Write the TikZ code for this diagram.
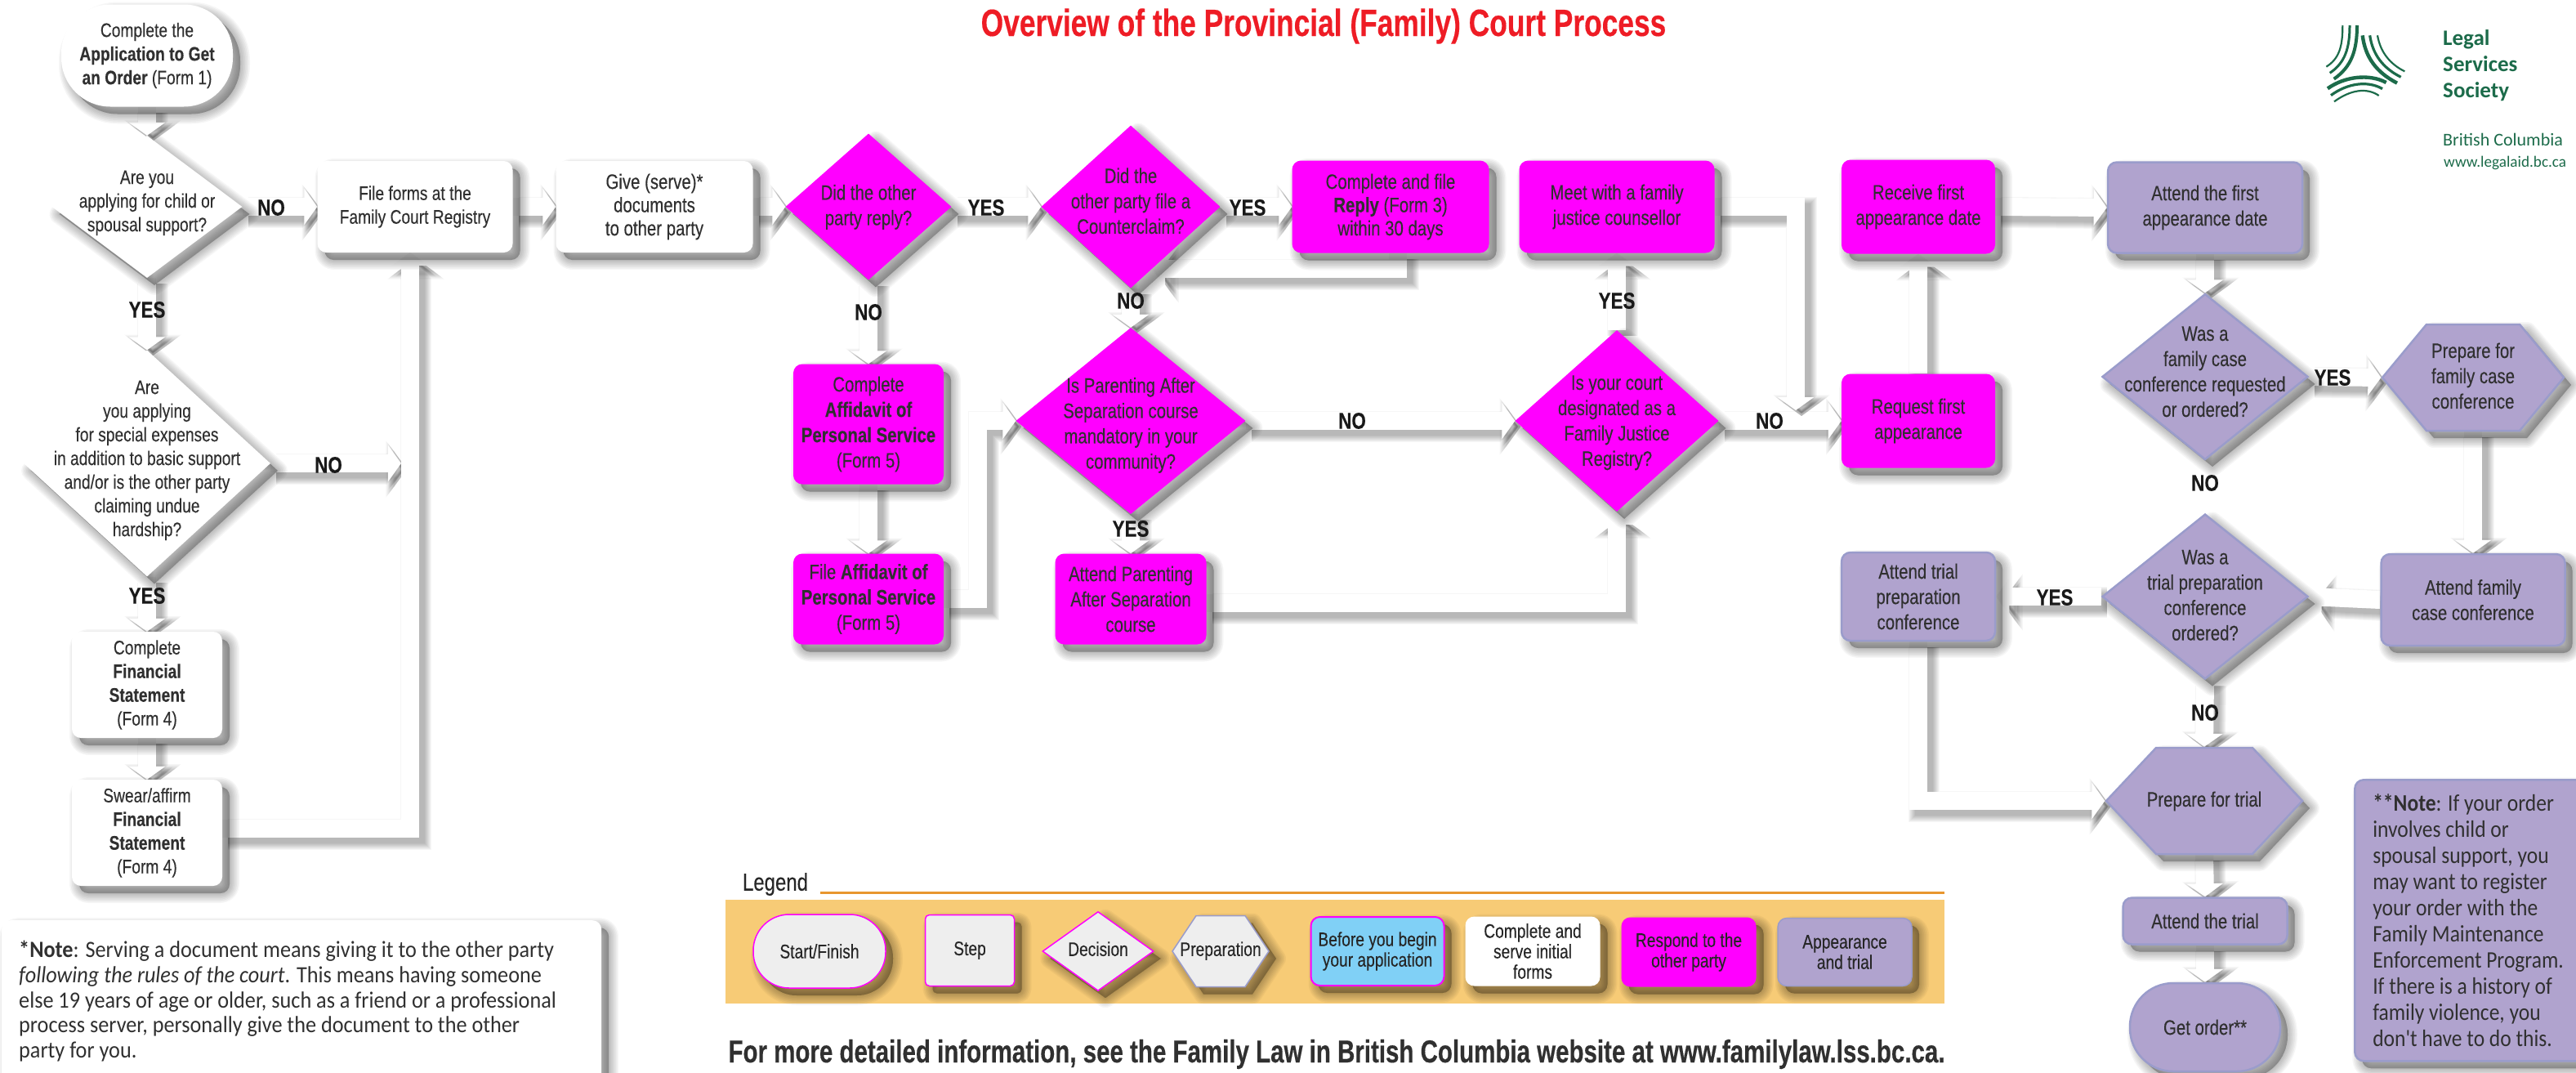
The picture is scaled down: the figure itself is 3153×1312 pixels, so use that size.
\documentclass[tikz,border=0pt]{standalone}
\usepackage{fontspec}
\setmainfont[FakeStretch=0.8,FakeBold=0.2]{Liberation Sans}
\newfontfamily\headfont[FakeStretch=0.76,FakeBold=0.3]{Liberation Sans}
\newfontfamily\notefont[FakeStretch=0.92]{Carlito}
\newfontfamily\notetwofont[FakeStretch=0.88]{Carlito}
\newfontfamily\logofont{Carlito}
\usetikzlibrary{arrows.meta,backgrounds,shadows,shapes.geometric,shapes.symbols}

\definecolor{txtgray}{HTML}{303030}
\definecolor{titlered}{HTML}{EE1C25}
\definecolor{magentafill}{HTML}{FF00FF}
\definecolor{purplefill}{HTML}{B0A3CE}
\definecolor{purpleline}{HTML}{9A9CCB}
\definecolor{logogreen}{HTML}{1C6B4A}
\definecolor{legendfill}{HTML}{F7CB76}
\definecolor{legendline}{HTML}{E8962E}
\definecolor{skyfill}{HTML}{80D0F6}
\definecolor{lightfill}{HTML}{EEEEEE}

\newcommand{\dtext}[2][0pt]{\raisebox{\dimexpr-14pt-#1\relax}{\smash{\makebox[0pt]{\begin{tabular}{@{}c@{}}#2\end{tabular}}}}}
\newcommand{\fatarrow}[1]{%
  \begin{scope}[on background layer]
    \foreach \sb in {0,2,4,6,8,10,12,14,16}{
      \pgfmathsetmacro{\lw}{22+\sb}
      \pgfmathsetmacro{\al}{16+.6*\sb}
      \pgfmathsetmacro{\aw}{44+1.5*\sb}
      \draw[line cap=butt,line join=miter,black,opacity=.034,line width=\lw pt,transform canvas={xshift=7pt,yshift=-7pt},-{Triangle[length=\al pt,width=\aw pt]}] #1;
    }
    \draw[fatline,white] #1;
  \end{scope}}

\tikzset{
  softlayer/.style={drop shadow={shadow xshift=9pt,shadow yshift=-9pt,opacity=.036,fill=black,draw=black,line width=#1pt,line join=round}},
  softshadow/.style={softlayer=24,softlayer=21,softlayer=18,softlayer=15,softlayer=12,softlayer=9,softlayer=6,softlayer=3,softlayer=.1},
  fatline/.style={line width=22pt,line cap=butt,line join=miter,-{Triangle[length=16pt,width=44pt]}},
  smalltext/.style={font=\fontsize{24}{29}\selectfont,text=txtgray,align=center,inner sep=0pt},
  bigtext/.style={font=\fontsize{25.5}{31}\selectfont,text=txtgray,align=center,inner sep=0pt},
  midtext/.style={font=\fontsize{25.5}{28.5}\selectfont,text=txtgray,align=center,inner sep=0pt},
  legendtext/.style={font=\fontsize{24}{25}\selectfont,text=black!85,align=center,inner sep=0pt},
  yesno/.style={font=\fontsize{28}{30}\selectfont\bfseries,text=black!90,inner sep=0pt},
  boxstep/.style={rectangle,rounded corners=11pt,softshadow},
  decide/.style={diamond,softshadow},
  hexa/.style={signal,signal to=east and west,softshadow},
  whitefill/.style={fill=white},
  pinkfill/.style={fill=magentafill},
  lilacfill/.style={fill=purplefill,draw=purpleline,line width=2.5pt},
  notebox/.style={rectangle,rounded corners=11pt,softshadow,align=flush left,font=\notefont\fontsize{28.5}{30.7}\selectfont,text=txtgray}
}

\begin{document}
\begin{tikzpicture}[x=1pt,y=-1pt]
\useasboundingbox (0,0) rectangle (3153,1312);

% left column
\node [boxstep,whitefill,smalltext,rounded corners=60pt,minimum width=210pt,minimum height=125pt] (start) at (180,68) {Complete the\\\textbf{Application to Get}\\\textbf{an Order} (Form 1)};
\node [decide,whitefill,smalltext,minimum width=233pt,minimum height=174pt] (support) at (180,253) {\dtext[-11pt]{Are you\\applying for child or\\spousal support?}};
\node [decide,whitefill,smalltext,minimum width=302pt,minimum height=277pt] (special) at (180,567) {\dtext[-9pt]{Are\\you applying\\for special expenses\\in addition to basic support\\and/or is the other party\\claiming undue\\hardship?}};
\node [boxstep,whitefill,smalltext,minimum width=184pt,minimum height=130pt] (fincomplete) at (180,838) {Complete\\\textbf{Financial}\\\textbf{Statement}\\(Form 4)};
\node [boxstep,whitefill,smalltext,minimum width=184pt,minimum height=130pt] (finswear) at (180,1019) {Swear/affirm\\\textbf{Financial}\\\textbf{Statement}\\(Form 4)};
\node [boxstep,whitefill,smalltext,minimum width=239pt,minimum height=112pt] (fileforms) at (508,253) {File forms at the\\Family Court Registry};
\node [boxstep,whitefill,midtext,minimum width=241pt,minimum height=112pt] (give) at (801,253) {Give (serve)*\\documents\\to other party};

% respond to the other party
\node [decide,pinkfill,bigtext,minimum width=203pt,minimum height=179pt] (replied) at (1063,253) {\dtext{Did the other\\party reply?}};
\node [decide,pinkfill,bigtext,minimum width=219pt,minimum height=199pt] (counter) at (1384,253) {\dtext[-10pt]{Did the\\other party file a\\Counterclaim?}};
\node [boxstep,pinkfill,midtext,minimum width=241pt,minimum height=113pt] (reply) at (1702,253) {Complete and file\\\textbf{Reply} (Form 3)\\within 30 days};
\node [boxstep,pinkfill,bigtext,minimum width=239pt,minimum height=113pt] (meet) at (1979,253) {Meet with a family\\justice counsellor};
\node [boxstep,pinkfill,bigtext,minimum width=184pt,minimum height=147pt] (affidavit) at (1063,519) {Complete\\\textbf{Affidavit of}\\\textbf{Personal Service}\\(Form 5)};
\node [boxstep,pinkfill,bigtext,minimum width=184pt,minimum height=111pt] (fileaff) at (1063,733) {File \textbf{Affidavit of}\\\textbf{Personal Service}\\(Form 5)};
\node [decide,pinkfill,bigtext,minimum width=281pt,minimum height=228pt] (parenting) at (1384,515) {\dtext[10pt]{Is Parenting After\\Separation course\\mandatory in your\\community?}};
\node [boxstep,pinkfill,bigtext,minimum width=185pt,minimum height=111pt] (attendpar) at (1384,733) {Attend Parenting\\After Separation\\course};
\node [decide,pinkfill,bigtext,minimum width=249pt,minimum height=222pt] (registry) at (1979,515) {\dtext[3pt]{Is your court\\designated as a\\Family Justice\\Registry?}};
\node [boxstep,pinkfill,bigtext,minimum width=188pt,minimum height=115pt] (receive) at (2348,253) {Receive first\\appearance date};
\node [boxstep,pinkfill,bigtext,minimum width=188pt,minimum height=115pt] (request) at (2348,515) {Request  first\\appearance};

% appearance and trial
\node [boxstep,lilacfill,bigtext,minimum width=238pt,minimum height=111pt] (attendfirst) at (2699,254) {Attend the first\\appearance date};
\node [decide,lilacfill,bigtext,minimum width=252pt,minimum height=203pt] (familycase) at (2699,461) {\dtext[-9pt]{Was a\\family case\\conference requested\\or ordered?}};
\node [hexa,lilacfill,bigtext,minimum width=222pt,minimum height=130pt,signal pointer angle=100.6] (prepfamily) at (3027,462) {\dtext{Prepare for\\family case\\conference}};
\node [boxstep,lilacfill,bigtext,minimum width=225pt,minimum height=112pt] (attendfamily) at (3027,734) {Attend family\\case conference};
\node [decide,lilacfill,bigtext,minimum width=252pt,minimum height=202pt] (trialprep) at (2699,730) {\dtext{Was a\\trial preparation\\conference\\ordered?}};
\node [boxstep,lilacfill,bigtext,minimum width=188pt,minimum height=108pt] (attendprep) at (2348,730) {Attend trial\\preparation\\conference};
\node [hexa,lilacfill,bigtext,minimum width=240pt,minimum height=130pt,signal pointer angle=93.6] (preptrial) at (2698,980) {\dtext{Prepare for trial}};
\node [boxstep,lilacfill,bigtext,minimum width=201pt,minimum height=57pt] (attendtrial) at (2699,1127) {Attend the trial};
\node [boxstep,lilacfill,bigtext,rounded corners=53pt,minimum width=184pt,minimum height=108pt] (getorder) at (2699,1257) {Get order**};

% free ends of connectors
\coordinate (nojoin) at (491,567);
\coordinate (fileup) at (502,309);
\coordinate (affturn) at (1197,515);
\coordinate (meetdown) at (2198,502);

% connectors
\fatarrow{(start.south) -- (support.north)}
\fatarrow{(support.east) -- (fileforms.west)}
\fatarrow{(fileforms.east) -- (give.west)}
\fatarrow{(give.east) -- (replied.west)}
\fatarrow{(support.south) -- (special.north)}
\fatarrow{(special.south) -- (fincomplete.north)}
\fatarrow{(fincomplete.south) -- (finswear.north)}
\fatarrow{(special.east) -- (nojoin)}
\fatarrow{(finswear.3) -| (fileup)}
\fatarrow{(replied.east) -- (counter.west)}
\fatarrow{(counter.east) -- (reply.west)}
\fatarrow{([xshift=9pt]reply.south) |- (counter.-71)}
\fatarrow{(replied.south) -- (affidavit.north)}
\fatarrow{(affidavit.south) -- (fileaff.north)}
\fatarrow{(counter.south) -- (parenting.north)}
\fatarrow{(parenting.south) -- (attendpar.north)}
\fatarrow{(fileaff.east) -| (affturn) -- (parenting.west)}
\fatarrow{(parenting.east) -- (registry.west)}
\fatarrow{(registry.north) -- (meet.south)}
\fatarrow{(attendpar.-3) -| (registry.south)}
\fatarrow{(registry.east) -- (request.west)}
\fatarrow{(meet.east) -| (meetdown)}
\fatarrow{(request.north) -- (receive.south)}
\fatarrow{(receive.east) -- (attendfirst.west)}
\fatarrow{(attendfirst.south) -- (familycase.north)}
\fatarrow{(familycase.east) -- (prepfamily.west)}
\fatarrow{(prepfamily.south) -- (attendfamily.north)}
\fatarrow{(attendfamily.west) -- (trialprep.east)}
\fatarrow{(trialprep.west) -- (attendprep.east)}
\fatarrow{(trialprep.south) -- (preptrial.north)}
\fatarrow{(attendprep.south) |- (preptrial.west)}
\fatarrow{(preptrial.south) -- (attendtrial.north)}
\fatarrow{(attendtrial.south) -- (getorder.north)}

% yes and no
\node [yesno] (noa) at (332,254) {NO};
\node [yesno] (yesa) at (180,379) {YES};
\node [yesno] (nob) at (402,569) {NO};
\node [yesno] (yesb) at (180,729) {YES};
\node [yesno] (yesc) at (1207,254) {YES};
\node [yesno] (yesd) at (1527,254) {YES};
\node [yesno] (noc) at (1063,382) {NO};
\node [yesno] (nod) at (1384,368) {NO};
\node [yesno] (yese) at (1384,647) {YES};
\node [yesno] (noe) at (1655,515) {NO};
\node [yesno] (nof) at (2166,515) {NO};
\node [yesno] (yesf) at (1979,368) {YES};
\node [yesno] (yesg) at (2855,462) {YES};
\node [yesno] (nog) at (2699,591) {NO};
\node [yesno] (yesh) at (2515,731) {YES};
\node [yesno] (noh) at (2699,872) {NO};

% notes
\node [notebox,whitefill,anchor=north west,text width=692pt,inner xsep=21pt,inner ysep=0pt,minimum height=198pt] (noteone) at (2,1126) {\textbf{*Note}: Serving a document means giving it to the other party\\\textit{following the rules of the court}. This means having someone\\else 19 years of age or older, such as a friend or a professional\\process server, personally give the document to the other\\party for you.};
\node [notebox,lilacfill,anchor=north west,text width=252pt,inner xsep=22pt,inner ysep=0pt,minimum height=344pt,font=\notetwofont\fontsize{29}{32}\selectfont] (notetwo) at (2881,953) {\textbf{**Note}: If your order\\involves child or\\spousal support, you\\may want to register\\your order with the\\Family Maintenance\\Enforcement Program.\\If there is a history of\\family violence, you\\don't have to do this.};

% title and footer
\node [font=\headfont\fontsize{46.5}{48}\selectfont\bfseries,text=titlered,inner sep=0pt] (title) at (1620,32) {Overview of the Provincial (Family) Court Process};
\node [font=\headfont\fontsize{38.8}{40}\selectfont\bfseries,text=txtgray,inner sep=0pt] (footer) at (1636,1290) {For more detailed information, see the Family Law in British Columbia website at www.familylaw.lss.bc.ca.};

% legend
\node [font=\fontsize{30}{32}\selectfont,text=black!85,inner sep=0pt] (legendword) at (949,1082) {Legend};
\draw [legendline,line width=3pt] (1004,1092) -- (2380,1092);
\node [fill=legendfill,minimum width=1492pt,minimum height=127pt,inner sep=0pt] (legendbar) at (1634,1164.5) {};
\node [boxstep,legendtext,fill=lightfill,draw=magentafill,line width=1.5pt,rounded corners=44pt,minimum width=162pt,minimum height=90pt] (lgstart) at (1003,1164) {Start/Finish};
\node [boxstep,legendtext,fill=lightfill,draw=magentafill,line width=1.5pt,rounded corners=5pt,minimum width=109pt,minimum height=87pt] (lgstep) at (1187,1163) {Step};
\node [decide,legendtext,fill=lightfill,draw=magentafill,line width=1.5pt,minimum width=136pt,minimum height=97pt] (lgdecide) at (1344,1164) {\dtext{Decision}};
\node [hexa,legendtext,fill=lightfill,draw=purpleline,line width=1.5pt,minimum width=118pt,minimum height=87pt,signal pointer angle=112.6] (lgprep) at (1494,1164) {\dtext{Preparation}};
\node [boxstep,legendtext,fill=skyfill,draw=magentafill,line width=2pt,minimum width=163pt,minimum height=84pt] (lgbefore) at (1686,1164) {Before you begin\\your application};
\node [boxstep,legendtext,whitefill,minimum width=165pt,minimum height=85pt] (lgforms) at (1876,1164) {Complete and\\serve initial\\forms};
\node [boxstep,legendtext,pinkfill,minimum width=165pt,minimum height=85pt] (lgrespond) at (2067,1165) {Respond to the\\other party};
\node [boxstep,legendtext,lilacfill,line width=1.5pt,minimum width=164pt,minimum height=83pt] (lgappear) at (2258,1165) {Appearance\\and trial};

% logo
\begin{scope}[shift={(2750,0)},scale=1/3,draw=logogreen,line cap=butt]
  \draw [line width=2.2pt] (352,93) .. controls (352,170) and (340,215) .. (292,245);
  \draw [line width=3pt] (378,93) .. controls (378,175) and (362,230) .. (305,268);
  \draw [line width=4pt] (405,93) .. controls (405,185) and (385,245) .. (320,290);
  \draw [line width=4.4pt] (425,130) .. controls (435,210) and (475,265) .. (552,305);
  \draw [line width=3.2pt] (452,130) .. controls (462,200) and (500,250) .. (566,283);
  \draw [line width=2.2pt] (480,130) .. controls (490,190) and (525,235) .. (580,262);
  \draw [line width=4.4pt] (297,325) .. controls (360,280) and (450,270) .. (512,303);
  \draw [line width=3.2pt] (309,350) .. controls (370,305) and (445,295) .. (498,326);
  \draw [line width=2.2pt] (321,373) .. controls (380,330) and (440,320) .. (485,351);
\end{scope}
\node [anchor=west,font=\logofont\fontsize{27}{32}\selectfont\bfseries,text=logogreen,align=left,inner sep=0pt] (lssname) at (2990,80) {Legal\\Services\\Society};
\node [anchor=west,font=\logofont\fontsize{22}{24}\selectfont,text=logogreen,inner sep=0pt] (lssprov) at (2990,171) {British Columbia};
\node [anchor=west,font=\logofont\fontsize{19.2}{24}\selectfont,text=logogreen,inner sep=0pt] (lssweb) at (2991,199) {www.legalaid.bc.ca};
\end{tikzpicture}
\end{document}
